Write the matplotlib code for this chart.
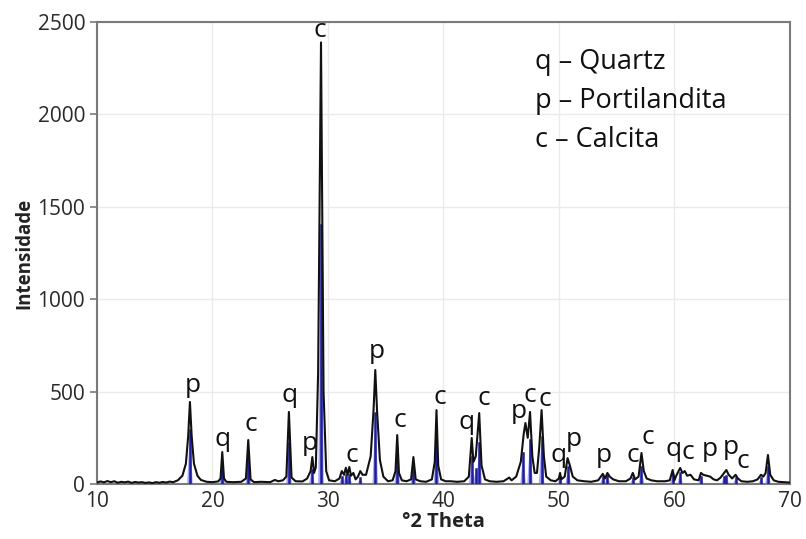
import matplotlib.pyplot as plt
import numpy as np

# diffractogram trace (2theta, counts)
two_theta = [
    10.0, 10.3, 10.6, 10.9, 11.2, 11.5, 11.8, 12.1, 12.4, 12.7, 13.0, 13.3, 13.6, 13.9,
    14.2, 14.5, 14.8, 15.1, 15.4, 15.7, 16.0, 16.3, 16.6,
    17.0, 17.4, 17.7, 17.9, 18.05, 18.2, 18.4, 18.7, 19.0, 19.5, 20.0, 20.5, 20.7, 20.85,
    21.0, 21.2, 21.8, 22.5, 22.9, 23.1, 23.3, 23.6, 24.2, 25.0, 25.4, 25.7, 26.1, 26.4,
    26.62, 26.85, 27.2, 27.8, 28.2, 28.5, 28.65, 28.8, 28.95, 29.15, 29.4, 29.62, 29.85,
    30.1, 30.6, 31.0, 31.2, 31.4, 31.55, 31.7, 31.85, 32.0, 32.2, 32.4, 32.6, 32.8, 33.0,
    33.3, 33.7, 33.95, 34.1, 34.25, 34.5, 34.8, 35.2, 35.6, 35.85, 36.0, 36.15, 36.4,
    36.8, 37.2, 37.4, 37.6, 38.0, 38.5, 39.0, 39.25, 39.4, 39.55, 39.8, 40.2, 40.6, 41.2,
    41.8, 42.2, 42.45, 42.6, 42.8, 43.1, 43.3, 43.6, 44.0, 44.6, 45.2, 45.7, 45.9, 46.3,
    46.7, 46.95, 47.1, 47.3, 47.5, 47.7, 47.9, 48.1, 48.3, 48.5, 48.7, 48.9, 49.3, 49.7,
    50.0, 50.1, 50.2, 50.5, 50.75, 50.95, 51.2, 51.6, 52.2, 52.8, 53.4, 53.8, 54.0, 54.2,
    54.4, 54.7, 55.2, 55.8, 56.2, 56.4, 56.6, 56.9, 57.15, 57.35, 57.6, 58.0, 58.5, 59.2,
    59.6, 59.85, 60.0, 60.2, 60.5, 60.7, 60.9, 61.1, 61.4, 61.7, 62.1, 62.3, 62.5, 62.8,
    63.1, 63.4, 63.7, 64.0, 64.3, 64.5, 64.7, 65.0, 65.3, 65.5, 65.8, 66.3, 66.8, 67.2,
    67.5, 67.7, 67.9, 68.1, 68.3, 68.6, 69.0, 69.5, 70.0,
]
counts = [
    8, 14, 9, 16, 10, 15, 7, 12, 9, 13, 6, 11, 8, 10,
    6, 9, 5, 10, 7, 11, 8, 13, 10,
    20, 45, 110, 260, 444, 260, 110, 45, 22, 12, 10, 14, 30, 173,
    30, 12, 10, 12, 30, 238, 25, 10, 12, 10, 22, 15, 20, 40,
    390, 35, 15, 14, 30, 70, 146, 60, 90, 600, 2390, 500, 70,
    20, 15, 30, 70, 50, 88, 50, 92, 45, 60, 25, 40, 70, 50,
    50, 150, 400, 617, 400, 130, 40, 15, 20, 70, 265, 60, 20,
    15, 25, 146, 25, 15, 12, 25, 120, 400, 100, 25, 15, 15, 12,
    15, 40, 249, 120, 150, 384, 100, 25, 15, 12, 15, 35, 20, 40,
    120, 270, 330, 250, 390, 150, 60, 60, 200, 400, 150, 40, 20, 15,
    30, 60, 25, 40, 140, 100, 40, 20, 15, 12, 20, 55, 30, 60,
    40, 25, 15, 15, 30, 60, 25, 40, 168, 70, 30, 20, 15, 15,
    20, 76, 20, 50, 87, 60, 70, 45, 50, 25, 20, 60, 50, 45,
    40, 25, 20, 35, 60, 76, 50, 30, 50, 30, 15, 12, 15, 25,
    50, 40, 60, 157, 50, 20, 12, 10, 8,
]

# reference sticks (blue)
stick_pos = [18.05, 20.85, 23.1, 26.62, 28.6, 29.4, 31.2, 31.55, 31.85, 32.8, 34.1, 36.0,
             37.4, 39.4, 42.45, 42.8, 43.1, 46.9, 47.5, 48.5, 50.1, 50.8, 53.8, 54.2, 56.4,
             57.15, 59.85, 60.5, 62.3, 64.3, 64.5, 65.3, 67.5, 68.1]
stick_h = [292, 113, 146, 222, 76, 1400, 40, 50, 50, 30, 384, 195,
           92, 276, 146, 80, 222, 170, 238, 254, 40, 92, 40, 45, 30,
           92, 50, 60, 40, 40, 45, 30, 30, 92]

# phase labels
label_txt = ["p", "q", "c", "q", "p", "c", "c", "p", "c", "c", "q", "c", "p", "c", "c",
             "q", "p", "p", "c", "c", "q", "c", "p", "p", "c"]
label_x = [18.3, 20.9, 23.3, 26.7, 28.4, 29.3, 32.1, 34.2, 36.2, 39.7, 42.0, 43.5, 46.5,
           47.5, 48.8, 50.0, 51.3, 53.9, 56.4, 57.7, 59.9, 61.2, 63.1, 64.9, 65.9]
label_y = [535, 240, 320, 480, 220, 2455, 155, 715, 345, 470, 335, 465, 390, 480, 455,
           155, 240, 155, 155, 250, 185, 173, 185, 200, 120]

legend_lines = ["q \u2013 Quartz", "p \u2013 Portilandita", "c \u2013 Calcita"]

plt.rcParams['font.family'] = ['Open Sans', 'DejaVu Sans']

fig = plt.figure(figsize=(8.06, 5.39), dpi=100)
ax = fig.add_axes([0.1203, 0.102, 0.8597, 0.857])

for p, h in zip(stick_pos, stick_h):
    w = 0.24
    ax.fill([p - w, p, p + w], [0, h, 0], color="#a4a4f8", lw=0, zorder=2)
    ax.plot([p, p], [0, h], color="#1e1e9a", lw=1.8, zorder=3)

ax.plot(two_theta, counts, color="#111111", lw=1.5, zorder=4)

for t, x, y in zip(label_txt, label_x, label_y):
    ax.text(x, y, t, ha="center", va="center", fontsize=19, color="#111111", zorder=5)

for i, s in enumerate(legend_lines):
    ax.text(0.632, 0.913 - i * 0.0843, s, transform=ax.transAxes, ha="left", va="center",
            fontsize=19.5, color="#111111")

ax.set_xlim(10, 70)
ax.set_ylim(0, 2500)
ax.set_xticks([10, 20, 30, 40, 50, 60, 70])
ax.set_yticks([0, 500, 1000, 1500, 2000, 2500])
ax.grid(True, color="#ebebeb", lw=1.0, zorder=0)
ax.set_axisbelow(True)
for sp in ax.spines.values():
    sp.set_color("#7a7a7a")
    sp.set_linewidth(1.5)
ax.tick_params(axis="y", labelsize=15, length=5, width=1.2, colors="#2a2a2a")
ax.tick_params(axis="x", labelsize=15, length=0, pad=5, colors="#2a2a2a")
ax.tick_params(axis="both", color="#7a7a7a")
ax.set_xlabel("\u00b02 Theta", fontsize=14.5, fontweight="bold", labelpad=0, color="#222222")
ax.set_ylabel("Intensidade", fontsize=13.5, fontweight="bold", labelpad=2, color="#222222")

fig.savefig("out.png", dpi=100)
